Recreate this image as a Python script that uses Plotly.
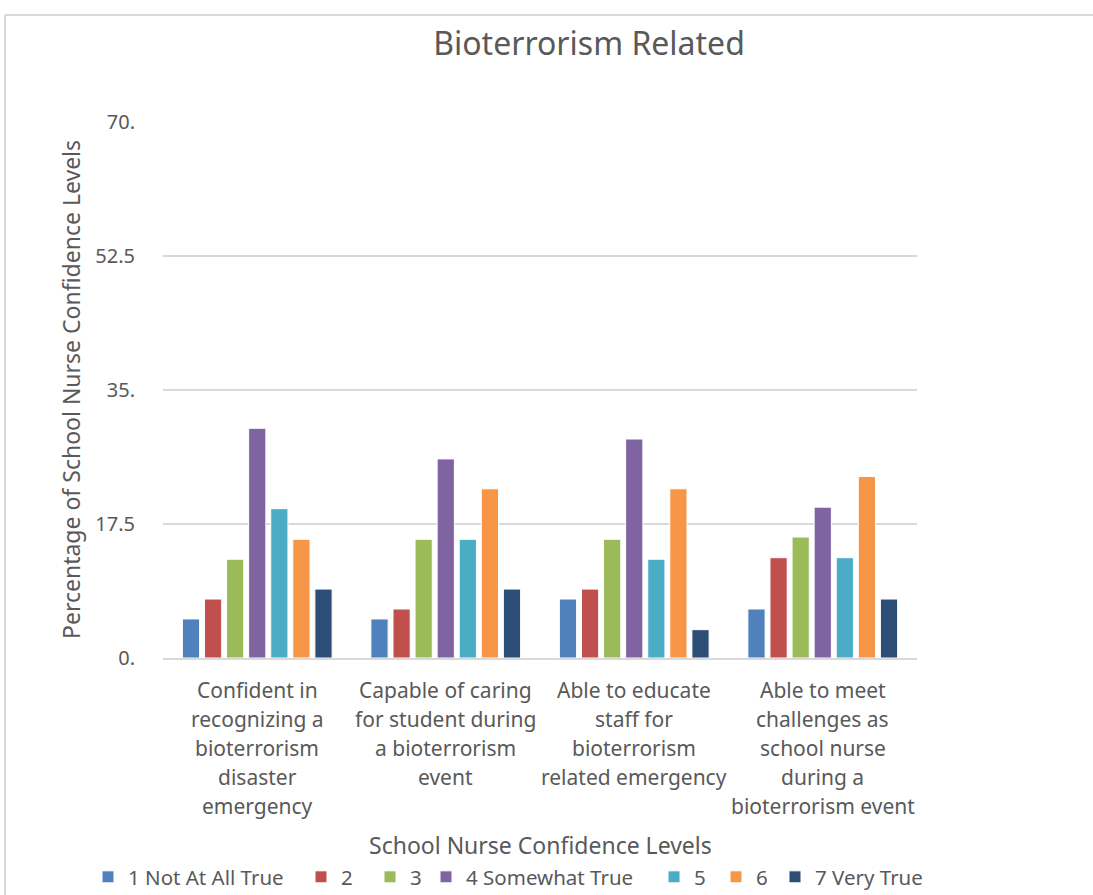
import plotly.graph_objects as go

# Survey items (category axis) and the 7-point response scale
categories = [
    "Confident in recognizing a bioterrorism disaster emergency",
    "Capable of caring for student during a bioterrorism event",
    "Able to educate staff for bioterrorism related emergency",
    "Able to meet challenges as school nurse during a bioterrorism event",
]
category_lines = [
    ["Confident in", "recognizing a", "bioterrorism", "disaster", "emergency"],
    ["Capable of caring", "for student during", "a bioterrorism", "event"],
    ["Able to educate", "staff for", "bioterrorism", "related emergency"],
    ["Able to meet", "challenges as", "school nurse", "during a", "bioterrorism event"],
]
series_names = ["1 Not At All True", "2", "3", "4 Somewhat True", "5", "6", "7 Very True"]

# Percentage of respondents per response level, one list per level
level_1 = [5.1, 5.1, 7.7, 6.4]
level_2 = [7.7, 6.4, 9.0, 13.1]
level_3 = [12.9, 15.5, 15.5, 15.8]
level_4 = [30.0, 26.0, 28.6, 19.7]
level_5 = [19.5, 15.5, 12.9, 13.1]
level_6 = [15.5, 22.1, 22.1, 23.7]
level_7 = [9.0, 9.0, 3.7, 7.7]
series_values = [level_1, level_2, level_3, level_4, level_5, level_6, level_7]

y_tick_values = [0, 17.5, 35, 52.5, 70]
y_tick_labels = ["0.", "17.5", "35.", "52.5", "70."]

colors = ["#4F81BD", "#C0504D", "#9BBB59", "#8064A2", "#4BACC6", "#F79646", "#2C4D75"]
# left pixel of each legend entry along the bottom row
legend_left_px = [105, 318, 387, 443, 671, 733, 792]

TEXT = "#595959"
FONT = "Noto Sans, Open Sans, sans-serif"
W, H = 1093, 895

fig = go.Figure()
legend_layouts = {}
for i, (name, vals, col) in enumerate(zip(series_names, series_values, colors)):
    key = "legend" if i == 0 else f"legend{i + 1}"
    fig.add_trace(go.Bar(
        x=categories, y=vals, name=name, legend=key,
        marker=dict(color=col, line=dict(color="white", width=1)),
    ))
    legend_layouts[key] = dict(
        orientation="h", xref="container", yref="container",
        x=(legend_left_px[i] - 17) / W, xanchor="left",
        y=1 - 877 / H, yanchor="middle",
        font=dict(family=FONT, size=20.5, color=TEXT),
        itemwidth=30, bgcolor="rgba(0,0,0,0)",
    )

# Multi-line category labels, one annotation per line for Excel-like spacing
annotations = []
for cat, lines in zip(categories, category_lines):
    for i, line in enumerate(lines):
        annotations.append(dict(
            x=cat, y=0, xref="x", yref="y", text=line, showarrow=False,
            xanchor="center", yanchor="middle", yshift=-(32 + 29 * i),
            font=dict(family=FONT, size=21, color=TEXT),
        ))

annotations.append(dict(
    x=(540 - 163) / 754, y=(658 - 845) / 536, xref="paper", yref="paper",
    text="School Nurse Confidence Levels", showarrow=False,
    xanchor="center", yanchor="middle",
    font=dict(family=FONT, size=23, color=TEXT),
))
annotations.append(dict(
    x=(71 - 163) / 754, y=(658 - 390) / 536, xref="paper", yref="paper",
    text="Percentage of School Nurse Confidence Levels", showarrow=False,
    textangle=-90, xanchor="center", yanchor="middle",
    font=dict(family=FONT, size=23, color=TEXT),
))

# Outer chart frame (top and left edges)
shapes = [
    dict(type="line", xref="paper", yref="paper",
         x0=(5 - 163) / 754, x1=(1100 - 163) / 754,
         y0=(658 - 15) / 536, y1=(658 - 15) / 536,
         line=dict(color="#D9D9D9", width=2)),
    dict(type="line", xref="paper", yref="paper",
         x0=(5 - 163) / 754, x1=(5 - 163) / 754,
         y0=(658 - 15) / 536, y1=(658 - 900) / 536,
         line=dict(color="#D9D9D9", width=2)),
]

fig.update_layout(
    width=W, height=H,
    margin=dict(l=163, r=176, t=122, b=237, autoexpand=False),
    paper_bgcolor="white", plot_bgcolor="white",
    barmode="group", bargap=0.18, bargroupgap=0.22,
    title=dict(text="Bioterrorism Related", x=589 / W, xanchor="center",
               y=1 - 44 / H, yanchor="middle",
               font=dict(family=FONT, size=32, color=TEXT)),
    xaxis=dict(showticklabels=False, showgrid=False, showline=True,
               linecolor="#D9D9D9", linewidth=2, ticks=""),
    yaxis=dict(range=[0, 70], tickvals=y_tick_values, ticktext=y_tick_labels,
               showgrid=True, gridcolor="#D9D9D9", gridwidth=2,
               zeroline=False, showline=False, ticks="",
               ticklabelstandoff=27,
               tickfont=dict(family=FONT, size=20, color=TEXT)),
    annotations=annotations, shapes=shapes,
    showlegend=True,
    **legend_layouts,
)

fig.write_html("out.html")
